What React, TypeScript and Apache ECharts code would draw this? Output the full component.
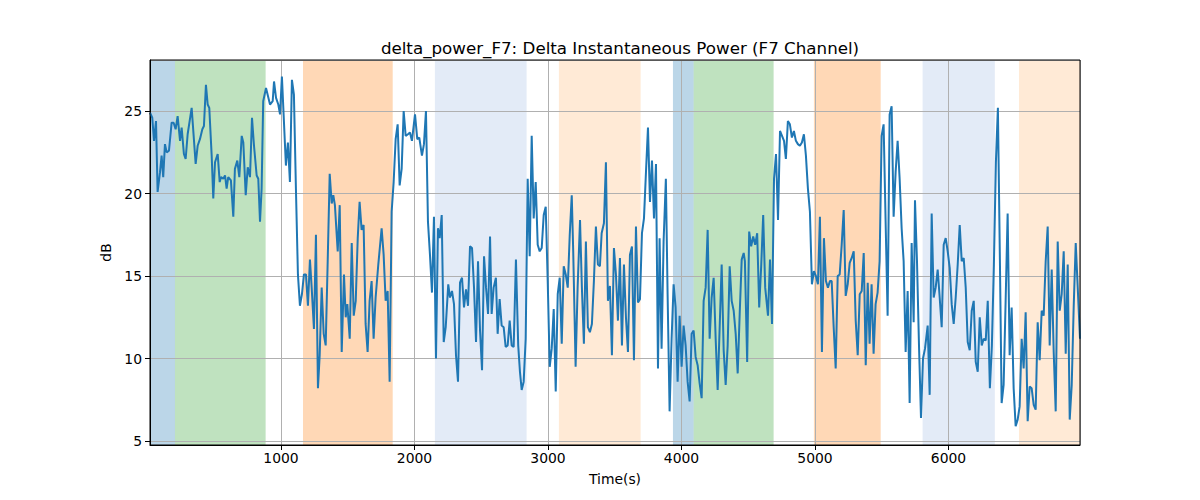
import React, { useEffect, useRef } from "react";
import * as echarts from "echarts";

const FONT = "DejaVu Sans";
const TITLE = "delta_power_F7: Delta Instantaneous Power (F7 Channel)";

const times: number[] = [
  19, 36, 49, 64, 76, 94, 106, 118, 131, 144, 161, 181, 196, 211, 226, 244, 256, 273, 286, 301,
  331, 361, 376, 393, 411, 423, 438, 451, 463, 481, 493, 506, 526, 541, 551, 568, 581, 593, 605, 625,
  643, 655, 673, 688, 706, 718, 736, 751, 768, 783, 798, 818, 830, 843, 855, 867, 888, 903, 918, 938,
  948, 963, 980, 993, 1007, 1022, 1037, 1052, 1067, 1082, 1097, 1112, 1127, 1142, 1157, 1172, 1187, 1202, 1217, 1230,
  1247, 1262, 1277, 1290, 1305, 1320, 1335, 1350, 1365, 1380, 1392, 1404, 1425, 1440, 1455, 1472, 1485, 1497, 1515, 1530,
  1545, 1560, 1575, 1589, 1604, 1619, 1634, 1649, 1664, 1679, 1694, 1709, 1729, 1754, 1769, 1784, 1799, 1814, 1829, 1844,
  1859, 1874, 1889, 1904, 1919, 1934, 1951, 1966, 1981, 2004, 2021, 2036, 2056, 2071, 2086, 2101, 2116, 2131, 2146, 2161,
  2176, 2189, 2204, 2219, 2234, 2253, 2266, 2281, 2296, 2311, 2326, 2341, 2356, 2371, 2386, 2401, 2416, 2431, 2446, 2461,
  2476, 2491, 2506, 2521, 2536, 2551, 2566, 2578, 2593, 2610, 2623, 2638, 2653, 2668, 2683, 2698, 2713, 2728, 2743, 2760,
  2777, 2790, 2803, 2818, 2833, 2848, 2863, 2878, 2893, 2908, 2923, 2938, 2953, 2968, 2983, 2998, 3013, 3028, 3043, 3058,
  3073, 3088, 3103, 3118, 3133, 3148, 3163, 3178, 3189, 3207, 3222, 3240, 3254, 3269, 3284, 3299, 3314, 3329, 3344, 3359,
  3374, 3389, 3402, 3419, 3434, 3449, 3464, 3479, 3494, 3509, 3524, 3539, 3554, 3569, 3584, 3599, 3614, 3629, 3644, 3659,
  3674, 3689, 3704, 3719, 3734, 3749, 3764, 3779, 3794, 3809, 3824, 3836, 3851, 3866, 3883, 3896, 3911, 3926, 3941, 3956,
  3971, 3986, 4001, 4016, 4031, 4046, 4061, 4076, 4091, 4106, 4121, 4136, 4151, 4166, 4181, 4196, 4211, 4226, 4241, 4256,
  4271, 4286, 4301, 4316, 4331, 4346, 4361, 4376, 4391, 4406, 4421, 4436, 4451, 4466, 4475, 4492, 4507, 4522, 4537, 4552,
  4567, 4582, 4597, 4612, 4627, 4648, 4663, 4678, 4693, 4708, 4723, 4738, 4753, 4768, 4782, 4797, 4812, 4827, 4842, 4857,
  4872, 4887, 4902, 4917, 4932, 4947, 4962, 4977, 4992, 5007, 5022, 5037, 5052, 5067, 5082, 5097, 5112, 5125, 5140, 5155,
  5170, 5185, 5200, 5215, 5230, 5245, 5260, 5275, 5290, 5305, 5320, 5335, 5350, 5365, 5380, 5395, 5409, 5424, 5439, 5454,
  5469, 5484, 5499, 5514, 5529, 5544, 5559, 5574, 5589, 5604, 5619, 5634, 5649, 5664, 5679, 5694, 5709, 5724, 5739, 5749,
  5764, 5779, 5794, 5809, 5824, 5844, 5859, 5874, 5889, 5904, 5919, 5934, 5949, 5964, 5979, 5994, 6009, 6024, 6039, 6054,
  6069, 6084, 6099, 6114, 6129, 6144, 6159, 6174, 6189, 6204, 6219, 6234, 6249, 6264, 6279, 6294, 6310, 6325, 6340, 6355,
  6370, 6385, 6398, 6413, 6428, 6443, 6458, 6473, 6488, 6503, 6518, 6533, 6548, 6563, 6578, 6593, 6608, 6623, 6638, 6653,
  6668, 6683, 6698, 6713, 6728, 6743, 6758, 6773, 6788, 6803, 6818, 6833, 6848, 6863, 6878, 6893, 6908, 6923, 6938, 6953,
  6968, 6985,
];

const values: number[] = [
  24.9, 24.6, 23.2, 24.4, 20.1, 21.3, 22.3, 21.0, 23.0, 22.5, 22.6, 24.3, 24.3, 23.9, 24.7, 23.2, 24.0, 22.4, 22.1, 23.6,
  25.2, 21.8, 22.9, 23.3, 23.9, 24.1, 26.6, 25.4, 25.2, 22.3, 19.7, 21.9, 22.4, 20.7, 21.0, 20.9, 21.1, 20.3, 21.0, 20.8,
  18.6, 21.5, 22.0, 21.0, 23.5, 23.1, 19.9, 21.6, 21.0, 24.6, 22.9, 21.1, 20.9, 18.3, 20.3, 25.6, 26.4, 25.9, 25.4, 25.6,
  26.8, 25.8, 25.4, 24.8, 27.1, 24.4, 21.7, 23.1, 20.7, 26.9, 26.0, 20.3, 15.1, 13.2, 13.9, 15.1, 15.1, 13.2, 16.0, 14.3,
  11.8, 17.5, 8.2, 10.2, 14.3, 11.5, 10.8, 15.9, 21.2, 19.4, 19.9, 19.3, 16.5, 19.3, 10.4, 15.1, 12.5, 13.3, 11.2, 17.0,
  12.6, 13.5, 17.3, 19.5, 17.8, 18.1, 12.1, 10.4, 13.5, 14.7, 11.2, 13.7, 15.7, 17.9, 16.3, 13.5, 14.1, 8.6, 18.9, 20.7,
  23.3, 24.2, 20.5, 21.5, 25.0, 23.5, 23.6, 23.7, 23.2, 24.8, 23.3, 23.4, 22.3, 23.0, 25.0, 18.3, 16.3, 14.0, 18.6, 10.0,
  17.9, 17.3, 18.7, 11.0, 11.9, 14.5, 13.7, 14.1, 13.3, 10.2, 8.6, 14.6, 14.9, 13.1, 14.2, 13.2, 16.8, 16.7, 14.3, 11.0,
  15.9, 11.7, 9.3, 16.2, 14.3, 12.7, 17.4, 12.7, 14.3, 14.9, 11.5, 13.6, 12.0, 11.9, 10.7, 10.8, 12.3, 10.8, 10.7, 16.0,
  10.8, 9.2, 8.1, 8.6, 11.2, 20.9, 16.2, 23.5, 18.5, 20.7, 16.9, 16.5, 16.7, 18.7, 19.2, 14.7, 9.5, 10.6, 13.0, 8.0,
  13.9, 14.9, 10.9, 15.6, 15.1, 14.3, 17.5, 19.9, 16.5, 9.5, 14.3, 18.4, 14.3, 10.9, 17.1, 11.9, 11.6, 12.1, 14.7, 18.0,
  15.7, 15.6, 17.6, 18.2, 21.9, 13.5, 14.4, 10.2, 16.7, 15.1, 12.3, 16.1, 10.8, 15.7, 12.5, 10.4, 16.3, 16.8, 9.9, 18.0,
  13.4, 13.6, 17.6, 18.5, 21.3, 24.0, 19.5, 22.0, 18.5, 21.8, 9.4, 17.3, 10.6, 17.1, 20.9, 13.9, 6.8, 11.2, 14.5, 13.1,
  8.6, 12.6, 9.5, 12.0, 10.8, 8.6, 7.4, 11.5, 11.7, 10.1, 9.6, 8.5, 7.6, 13.5, 14.3, 17.8, 11.2, 13.7, 14.9, 11.2,
  8.1, 11.9, 15.7, 10.5, 8.4, 10.8, 15.6, 13.5, 12.9, 11.5, 9.1, 12.7, 16.0, 16.4, 15.9, 9.8, 17.7, 16.8, 17.4, 16.9,
  17.6, 13.1, 15.6, 18.7, 14.3, 12.6, 16.0, 12.1, 20.9, 22.4, 18.4, 23.8, 23.5, 23.2, 22.1, 24.4, 24.2, 23.4, 23.8, 23.2,
  23.0, 22.9, 23.1, 23.6, 22.3, 20.3, 18.9, 14.5, 15.3, 15.0, 14.5, 18.6, 10.4, 17.3, 14.7, 14.3, 14.7, 14.7, 11.9, 9.4,
  15.0, 15.1, 16.9, 19.0, 13.8, 14.5, 15.8, 16.1, 16.5, 12.3, 10.2, 13.9, 14.1, 16.4, 9.6, 14.6, 10.9, 14.5, 10.3, 13.3,
  14.0, 15.9, 23.5, 24.2, 18.3, 12.6, 24.8, 25.3, 18.6, 21.3, 23.2, 20.9, 17.9, 15.9, 10.4, 14.1, 7.3, 17.0, 12.2, 19.6,
  15.9, 10.8, 6.4, 10.0, 10.6, 12.0, 7.8, 18.8, 13.7, 14.3, 15.4, 13.7, 11.9, 16.9, 17.3, 16.5, 15.5, 13.3, 12.1, 13.7,
  15.7, 18.1, 15.9, 16.1, 14.3, 11.0, 10.5, 12.9, 13.5, 9.8, 9.2, 12.5, 10.8, 11.2, 11.1, 13.5, 8.2, 10.8, 15.7, 21.9,
  25.2, 16.0, 7.3, 8.4, 13.5, 18.8, 10.2, 13.1, 8.2, 5.9, 6.3, 7.1, 11.2, 9.4, 12.8, 6.2, 8.3, 8.2, 7.2, 6.9,
  12.2, 9.9, 12.9, 12.6, 15.9, 18.0, 10.8, 15.4, 10.4, 6.8, 17.1, 12.9, 13.9, 16.5, 10.3, 15.7, 6.3, 8.4, 13.2, 17.0,
  14.3, 11.2,
];

// shaded spans: start, end, kind
const spanStarts: number[] = [19, 206, 1165, 2153, 3082, 3936, 4091, 4992, 5806, 6528];
const spanEnds: number[] = [206, 885, 1837, 2840, 3694, 4091, 4690, 5492, 6347, 6985];
const spanKinds: string[] = ["blue", "green", "orange", "lightblue", "lightorange", "blue", "green", "orange", "lightblue", "lightorange"];

const KIND_COLORS: Record<string, string> = {
  blue: "rgba(31,119,180,0.3)",
  green: "rgba(44,160,44,0.3)",
  orange: "rgba(255,127,14,0.3)",
  lightblue: "rgba(174,199,232,0.35)",
  lightorange: "rgba(255,187,120,0.3)",
};

const X_MIN = 19;
const X_MAX = 6985;
const Y_MIN = 4.76;
const Y_MAX = 28.1;

export default function App() {
  const ref = useRef<HTMLDivElement>(null);
  useEffect(() => {
    if (!ref.current) return;
    const chart = echarts.init(ref.current, undefined, { renderer: "svg" });
    const lineData = times.map((t, i) => [t, values[i]]);
    const areas = spanStarts.map((s, i) => [
      { xAxis: s, itemStyle: { color: KIND_COLORS[spanKinds[i]] } },
      { xAxis: spanEnds[i] },
    ]);
    const axisLabelStyle = { fontFamily: FONT, fontSize: 13.9, color: "#000" };
    chart.setOption({
      animation: false,
      backgroundColor: "#fff",
      title: {
        text: TITLE,
        left: 615,
        top: 34,
        textAlign: "center",
        textStyle: { fontFamily: FONT, fontSize: 16.7, fontWeight: "normal", color: "#000" },
      },
      grid: {
        left: 150,
        right: 120,
        top: 60,
        bottom: 55,
        show: true,
        borderColor: "#000",
        borderWidth: 1,
        backgroundColor: "transparent",
        z: 6,
      },
      xAxis: {
        type: "value",
        min: X_MIN,
        max: X_MAX,
        z: 3,
        name: "Time(s)",
        nameLocation: "middle",
        nameGap: 27,
        nameTextStyle: axisLabelStyle,
        axisLine: { show: true, lineStyle: { color: "#000", width: 1 } },
        axisTick: { show: true, length: 5, lineStyle: { color: "#000", width: 1 } },
        axisLabel: {
          ...axisLabelStyle,
          margin: 6,
          showMinLabel: false,
          showMaxLabel: false,
          formatter: (v: number) => (Math.abs(v % 1000) < 1e-6 ? String(Math.round(v)) : ""),
        },
        splitLine: { show: true, lineStyle: { color: "#b0b0b0", width: 1 } },
      },
      yAxis: {
        type: "value",
        min: Y_MIN,
        max: Y_MAX,
        z: 3,
        name: "dB",
        nameLocation: "middle",
        nameGap: 34,
        nameTextStyle: axisLabelStyle,
        axisLine: { show: true, lineStyle: { color: "#000", width: 1 } },
        axisTick: { show: true, length: 5, lineStyle: { color: "#000", width: 1 } },
        axisLabel: {
          ...axisLabelStyle,
          margin: 8,
          showMinLabel: false,
          showMaxLabel: false,
          formatter: (v: number) => (Math.abs(v % 5) < 1e-6 ? String(Math.round(v)) : ""),
        },
        splitLine: { show: true, lineStyle: { color: "#b0b0b0", width: 1 } },
      },
      series: [
        {
          type: "line",
          z: 1,
          silent: true,
          symbol: "none",
          data: [[X_MIN, 10]],
          lineStyle: { opacity: 0 },
          markArea: { silent: true, data: areas },
        },
        {
          type: "line",
          z: 4,
          symbol: "none",
          showSymbol: false,
          data: lineData,
          lineStyle: { color: "#1f77b4", width: 2 },
        },
      ],
    });
    return () => chart.dispose();
  }, []);
  return (
    <div
      ref={ref}
      style={{ position: "absolute", left: 0, top: 0, width: 1200, height: 500, background: "#fff" }}
    />
  );
}
